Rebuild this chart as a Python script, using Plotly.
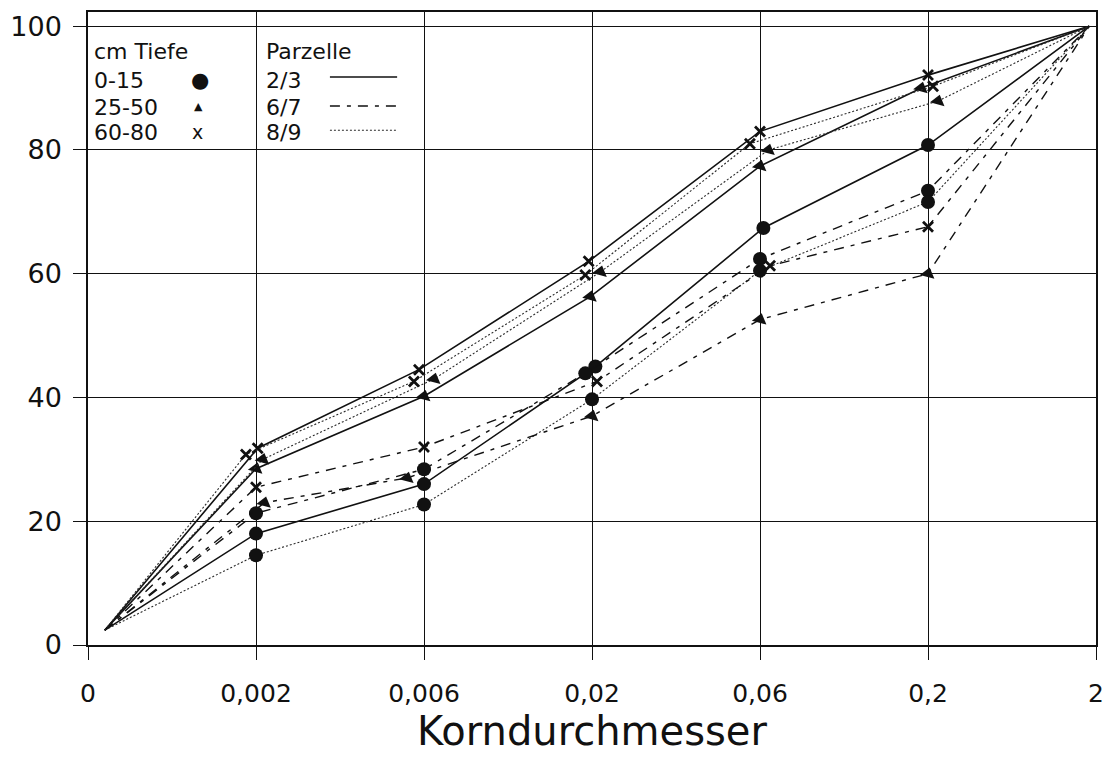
import plotly.graph_objects as go

# ---------------- data ----------------
categories = ["0", "0,002", "0,006", "0,02", "0,06", "0,2", "2"]
positions = [0, 1, 2, 3, 4, 5, 6]
y_ticks = [0, 20, 40, 60, 80, 100]

# curve start/end (all curves converge)
start_x, start_y = 0.1, 2.4
end_x, end_y = 5.96, 100.0

# values at 0,002 / 0,006 / 0,02 / 0,06 / 0,2   (cumulative %)
p23_d0015 = [18.0, 26.0, 45.0, 67.4, 80.8]
p67_d0015 = [21.3, 28.4, 43.9, 62.4, 73.4]
p89_d0015 = [14.5, 22.7, 39.7, 60.5, 71.6]
p23_d2550 = [28.5, 40.2, 56.3, 77.4, 90.0]
p67_d2550 = [23.0, 27.0, 37.0, 52.6, 60.0]
p89_d2550 = [30.0, 43.0, 60.3, 80.0, 87.9]
p23_d6080 = [31.8, 44.5, 62.0, 83.0, 92.1]
p67_d6080 = [25.5, 32.0, 42.6, 61.3, 67.6]
p89_d6080 = [30.8, 42.6, 59.8, 81.0, 90.3]

# small horizontal displacement of the plotted symbols (as drawn in the original)
off_p23_d0015 = [0.0, 0.0, 0.02, 0.02, 0.0]
off_p67_d0015 = [0.0, 0.0, -0.04, 0.0, 0.0]
off_p89_d0015 = [0.0, 0.0, 0.0, 0.0, 0.0]
off_p23_d2550 = [0.0, 0.0, -0.01, 0.0, -0.04]
off_p67_d2550 = [0.05, -0.10, 0.0, 0.0, 0.0]
off_p89_d2550 = [0.04, 0.06, 0.05, 0.05, 0.06]
off_p23_d6080 = [0.01, -0.03, -0.02, 0.0, 0.0]
off_p67_d6080 = [0.0, 0.0, 0.03, 0.06, 0.0]
off_p89_d6080 = [-0.06, -0.06, -0.04, -0.06, 0.03]

depth_labels = ["0-15", "25-50", "60-80"]
plot_labels = ["2/3", "6/7", "8/9"]

INK = "#111111"
FONT = "DejaVu Sans"

marker_style = {
    "0-15": dict(symbol="circle", size=14, color=INK),
    "25-50": dict(symbol="triangle-up", size=13, color=INK, angle=15),
    "60-80": dict(symbol="x-thin", size=10, color=INK, line=dict(width=2.8, color=INK)),
}
line_style = {
    "2/3": dict(color=INK, width=1.6, dash="solid"),
    "6/7": dict(color=INK, width=1.4, dash="10px,7px,4px,7px"),
    "8/9": dict(color="#2a2a2a", width=1.1, dash="2px,2px"),
}

series = [
    ("2/3", "0-15", p23_d0015, off_p23_d0015),
    ("6/7", "0-15", p67_d0015, off_p67_d0015),
    ("8/9", "0-15", p89_d0015, off_p89_d0015),
    ("2/3", "25-50", p23_d2550, off_p23_d2550),
    ("6/7", "25-50", p67_d2550, off_p67_d2550),
    ("8/9", "25-50", p89_d2550, off_p89_d2550),
    ("2/3", "60-80", p23_d6080, off_p23_d6080),
    ("6/7", "60-80", p67_d6080, off_p67_d6080),
    ("8/9", "60-80", p89_d6080, off_p89_d6080),
]

fig = go.Figure()

for plot, depth, vals, offs in series:
    mx = [p + o for p, o in zip(positions[1:6], offs)]
    xs = [start_x] + mx + [end_x]
    ys = [start_y] + vals + [end_y]
    fig.add_trace(go.Scatter(x=xs, y=ys, mode="lines", line=line_style[plot],
                             showlegend=False, hoverinfo="skip"))
    fig.add_trace(go.Scatter(x=mx, y=vals, mode="markers", marker=marker_style[depth],
                             showlegend=False, name=f"{plot} {depth} cm"))

# ---------------- hand-made legend (text + keys) ----------------
ann = []
def txt(x, y, t, size=22, xanchor="left"):
    ann.append(dict(x=x, y=y, xref="x", yref="y", text=t, showarrow=False,
                    xanchor=xanchor, yanchor="middle",
                    font=dict(family=FONT, size=size, color=INK)))

row_y = [91.3, 86.9, 82.9]
txt(0.025, 95.9, "cm Tiefe")
for ry, lab in zip(row_y, depth_labels):
    txt(0.025, ry, lab)
txt(0.665, row_y[0], "●", size=21, xanchor="center")
txt(0.655, row_y[1] + 0.2, "▲", size=11, xanchor="center")
txt(0.65, row_y[2], "x", size=19, xanchor="center")

txt(1.045, 95.9, "Parzelle")
for ry, lab in zip(row_y, plot_labels):
    txt(1.045, ry, lab)

shapes = []
for ry, lab in zip([91.8, 87.1, 83.2], plot_labels):
    ls = line_style[lab]
    shapes.append(dict(type="line", xref="x", yref="y", x0=1.44, x1=1.84, y0=ry, y1=ry,
                       line=dict(color=ls["color"], width=ls["width"], dash=ls["dash"])))

axis_common = dict(
    showgrid=True, gridcolor=INK, gridwidth=1.3,
    showline=True, linecolor=INK, linewidth=1.5, mirror=True,
    ticks="outside", ticklen=13, tickcolor=INK, tickwidth=1.3,
    zeroline=False, automargin=False,
)

fig.update_layout(
    width=1119, height=757,
    margin=dict(l=80, r=31, t=4, b=120),
    paper_bgcolor="white", plot_bgcolor="white",
    font=dict(family=FONT, color=INK),
    annotations=ann, shapes=shapes,
    xaxis=dict(range=[0, 6], tickvals=positions, ticktext=categories,
               tickfont=dict(size=25, family=FONT, color=INK),
               ticklabelstandoff=12,
               title=dict(text="Korndurchmesser", font=dict(size=40, family=FONT, color=INK),
                          standoff=10),
               **axis_common),
    yaxis=dict(range=[0, 102.3], tickvals=y_ticks,
               tickfont=dict(size=27, family=FONT, color=INK),
               ticklabelstandoff=6,
               **axis_common),
)

fig.write_html("out.html")
